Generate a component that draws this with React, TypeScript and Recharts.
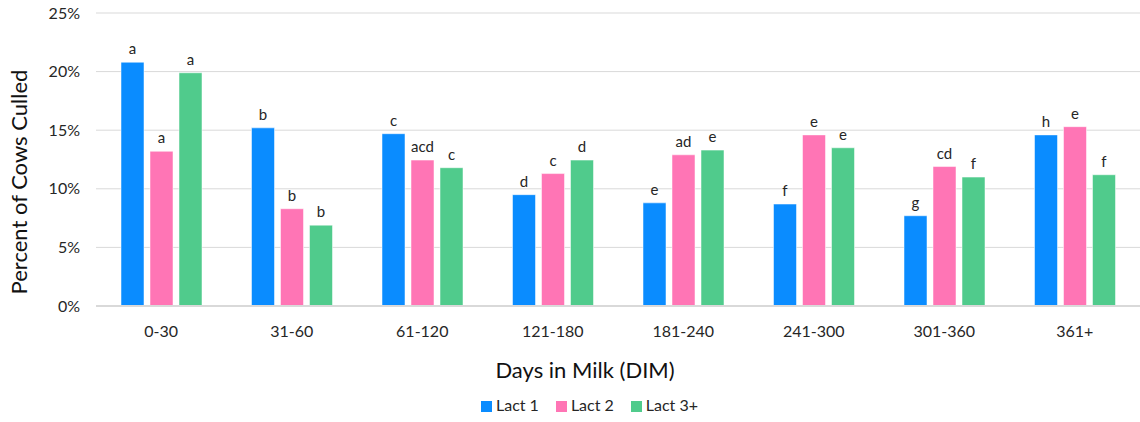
import { Bar, BarChart, CartesianGrid, Label, LabelList, Legend, XAxis, YAxis } from "recharts";

// Days-in-milk buckets on the x axis
const categories = ["0-30", "31-60", "61-120", "121-180", "181-240", "241-300", "301-360", "361+"];

// Percent of cows culled
const lact1 = [20.8, 15.2, 14.7, 9.5, 8.8, 8.7, 7.7, 14.6];
const lact2 = [13.2, 8.3, 12.45, 11.3, 12.9, 14.6, 11.9, 15.3];
const lact3 = [19.9, 6.9, 11.8, 12.45, 13.3, 13.5, 11.0, 11.2];

// Significance letters printed above each bar
const lact1Letters = ["a", "b", "c", "d", "e", "f", "g", "h"];
const lact2Letters = ["a", "b", "acd", "c", "ad", "e", "cd", "e"];
const lact3Letters = ["a", "b", "c", "d", "e", "e", "f", "f"];

const yTicks = [0, 5, 10, 15, 20, 25];

const FONT = "Lato, 'Open Sans', sans-serif";
const BLUE = "#0a8cff";
const PINK = "#ff75b5";
const GREEN = "#50cb8c";

const data = categories.map((dim, i) => ({
  dim,
  l1: lact1[i],
  l2: lact2[i],
  l3: lact3[i],
  t1: lact1Letters[i],
  t2: lact2Letters[i],
  t3: lact3Letters[i],
}));

const letterStyle = { fontSize: 15, fill: "#262626", fontFamily: FONT };

export default function App() {
  return (
    <div style={{ width: 1140, height: 422, fontFamily: FONT }}>
      <style>{"body{margin:0}"}</style>
      <BarChart
        width={1140}
        height={422}
        data={data}
        margin={{ top: 13, right: 0, bottom: 5, left: 0 }}
        barSize={23}
        barGap={6}
      >
        <CartesianGrid vertical={false} stroke="#d9d9d9" />
        <XAxis
          dataKey="dim"
          height={89}
          tickLine={false}
          tickSize={0}
          tickMargin={20}
          stroke="#d9d9d9"
          strokeWidth={2}
          tick={{ fontSize: 16, fill: "#262626", fontFamily: FONT }}
        >
          <Label
            value="Days in Milk (DIM)"
            position="insideBottom"
            offset={17}
            dx={-33}
            style={{ fontSize: 22, fill: "#111", fontFamily: FONT }}
          />
        </XAxis>
        <YAxis
          width={96}
          domain={[0, 25]}
          ticks={yTicks}
          tickFormatter={(v) => `${v}%`}
          axisLine={false}
          tickLine={false}
          tickSize={0}
          tickMargin={16}
          tick={{ fontSize: 16, fill: "#262626", fontFamily: FONT }}
        >
          <Label
            content={() => (
              <text
                x={18}
                y={182}
                transform="rotate(-90 18 182)"
                textAnchor="middle"
                dominantBaseline="central"
                style={{ fontSize: 22, fill: "#111", fontFamily: FONT }}
              >
                Percent of Cows Culled
              </text>
            )}
          />
        </YAxis>
        <Legend
          verticalAlign="bottom"
          height={22}
          iconType="square"
          iconSize={11}
          wrapperStyle={{ paddingLeft: 28 }}
          formatter={(value) => (
            <span style={{ color: "#262626", fontSize: 16, marginRight: 7 }}>{value}</span>
          )}
        />
        <Bar dataKey="l1" name="Lact 1" fill={BLUE} stroke="#ffffff" strokeOpacity={0.5} isAnimationActive={false}>
          <LabelList dataKey="t1" position="top" offset={8} style={letterStyle} />
        </Bar>
        <Bar dataKey="l2" name="Lact 2" fill={PINK} stroke="#ffffff" strokeOpacity={0.5} isAnimationActive={false}>
          <LabelList dataKey="t2" position="top" offset={8} style={letterStyle} />
        </Bar>
        <Bar dataKey="l3" name="Lact 3+" fill={GREEN} stroke="#ffffff" strokeOpacity={0.5} isAnimationActive={false}>
          <LabelList dataKey="t3" position="top" offset={8} style={letterStyle} />
        </Bar>
      </BarChart>
    </div>
  );
}
